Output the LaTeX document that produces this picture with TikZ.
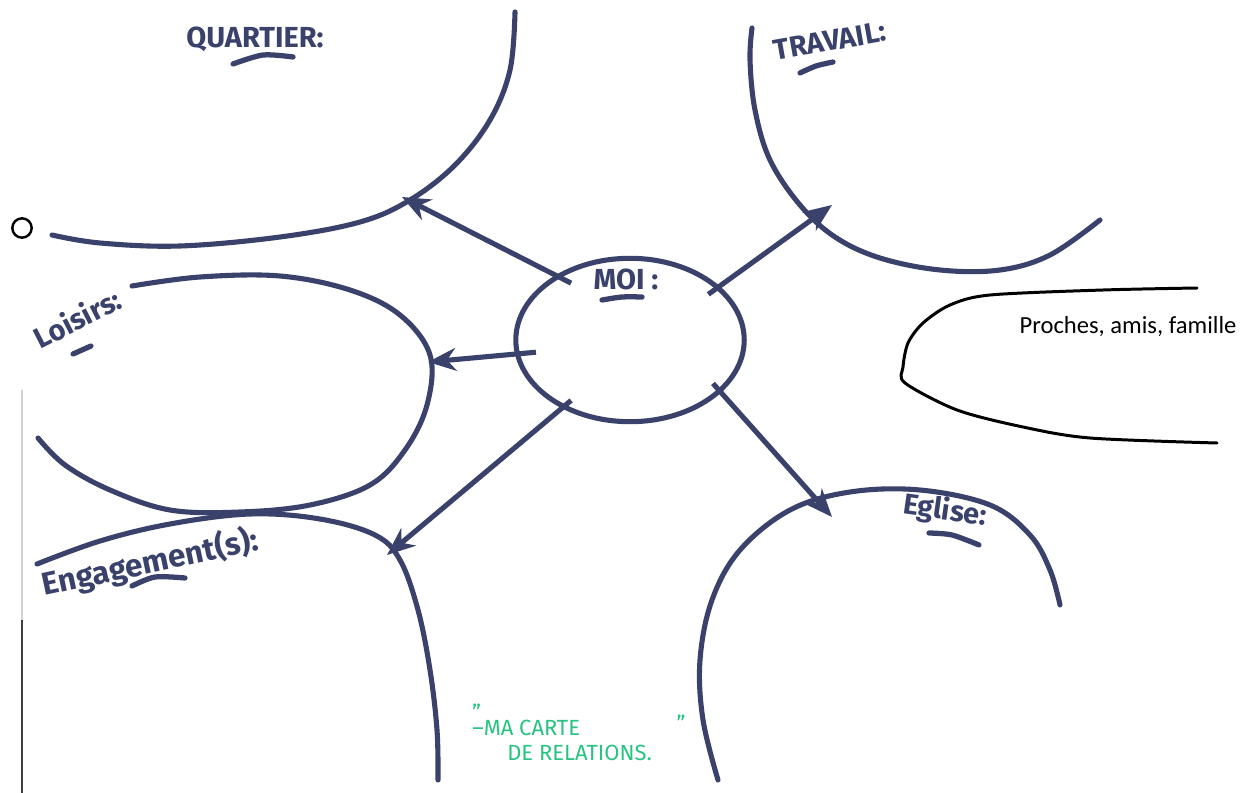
\documentclass[tikz,border=0pt]{standalone}
\usepackage{fontspec}
\setmainfont{Carlito}
\setsansfont{Fira Sans}
\usetikzlibrary{arrows.meta,shapes.geometric}

\definecolor{encre}{RGB}{58,66,108}
\definecolor{vert}{RGB}{38,196,128}

\tikzset{
  bulle/.style={draw=encre, line width=2.9pt, line cap=round},
  fleche/.style={draw=encre, line width=2.9pt, -{Stealth[length=16pt,width=13pt]}},
  titre/.style={text=encre, font=\sffamily\bfseries\fontsize{16.5}{19}\selectfont, inner sep=0pt},
  trait/.style={draw=encre, line width=3pt, line cap=round},
}

\begin{document}
\begin{tikzpicture}[x=0.02cm, y=-0.02cm]
\useasboundingbox (0,0) rectangle (1256,793);

% centre
\node[ellipse, draw=encre, line width=2.9pt, minimum width=130pt, minimum height=93pt] (moi) at (630,340) {};
\node[titre] (moi_t) at (626,279) {MOI :};
\draw[trait] plot[smooth] coordinates {(602,300) (622,297) (642,297)};

% bulles
\draw[bulle] plot[smooth, tension=0.6] coordinates {(52,235) (100,243) (180,246) (280,237) (360,222) (410,200) (455,165) (490,120) (510,70) (515,12)};
\draw[bulle] plot[smooth, tension=0.6] coordinates {(752,28) (750,60) (755,110) (770,160) (800,205) (835,237) (880,258) (940,270) (1000,270) (1050,255) (1100,220)};
\draw[bulle] plot[smooth, tension=0.6] coordinates {(132,286) (200,277) (280,276) (350,290) (400,315) (430,355) (427,405) (405,450) (370,485) (310,505) (240,512) (170,510) (110,490) (65,465) (38,438)};
\draw[bulle] plot[smooth, tension=0.6] coordinates {(37,564) (100,541) (170,524) (250,514) (320,519) (375,535) (400,560) (418,610) (430,670) (437,730) (438,780)};
\draw[bulle] plot[smooth, tension=0.6] coordinates {(718,780) (703,720) (700,660) (712,600) (740,550) (790,510) (850,492) (920,490) (990,505) (1030,535) (1050,570) (1060,605)};

% titres
\node[titre] (quartier) at (255,39) {QUARTIER:};
\draw[trait] plot[smooth] coordinates {(233,64) (263,55) (293,57)};
\node[titre, rotate=10] (travail) at (830,41) {TRAVAIL:};
\draw[trait] plot[smooth] coordinates {(800,73) (816,66) (833,62)};
\node[titre, rotate=27] (loisirs) at (77,318) {Loisirs:};
\draw[trait] plot[smooth] coordinates {(73,354) (82,350) (91,346)};
\node[titre, rotate=12, font=\sffamily\bfseries\fontsize{18}{20}\selectfont] (engagement) at (150,563) {Engagement(s):};
\draw[trait] plot[smooth] coordinates {(132,586) (155,577) (185,578)};
\node[titre, rotate=-8] (eglise) at (945,511) {Eglise:};
\draw[trait] plot[smooth] coordinates {(929,533) (952,535) (979,545)};

% fleches
\coordinate (h_quartier) at (402,197);
\coordinate (h_travail) at (832,205);
\coordinate (h_loisirs) at (428,362);
\coordinate (h_engagement) at (387,555);
\coordinate (h_eglise) at (832,517);

\path
  (moi.139) edge[fleche, shorten <=-10pt] (h_quartier)
  (moi.31) edge[fleche, shorten <=-8pt] (h_travail)
  (moi.187) edge[fleche, shorten <=-12pt] (h_loisirs)
  (moi.225) edge[fleche, shorten <=-7pt] (h_engagement)
  (moi.330) edge[fleche, shorten <=-7pt] (h_eglise)
  ;

% proches
\draw[line width=1.7pt, line cap=round] plot[smooth, tension=0.5] coordinates {(1197,288) (1103,290) (990,295) (950,305) (923,323) (908,343) (903,367) (905,383) (957,410) (1023,427) (1090,438) (1217,443)};
\node[font=\fontsize{14}{16}\selectfont] (proches) at (1128,327) {Proches, amis, famille};

% marge
\node[circle, draw, line width=1.4pt, minimum size=11pt, inner sep=0pt] (puce) at (22,228) {};
\draw[gray!35, line width=0.6pt] (22,390) -- (22,620);
\draw[black!75, line width=0.6pt] (22,620) -- (22,793);

% legende
\node[text=vert, font=\sffamily\fontsize{12.5}{14}\selectfont, align=left, anchor=north west] (carte) at (466,698) {\raisebox{1.3ex}{''}\kern-0.4em--MA CARTE\hspace{4.4em}\raisebox{0.4ex}{''}\\\hspace{1.6em}DE RELATIONS.};

\end{tikzpicture}
\end{document}
